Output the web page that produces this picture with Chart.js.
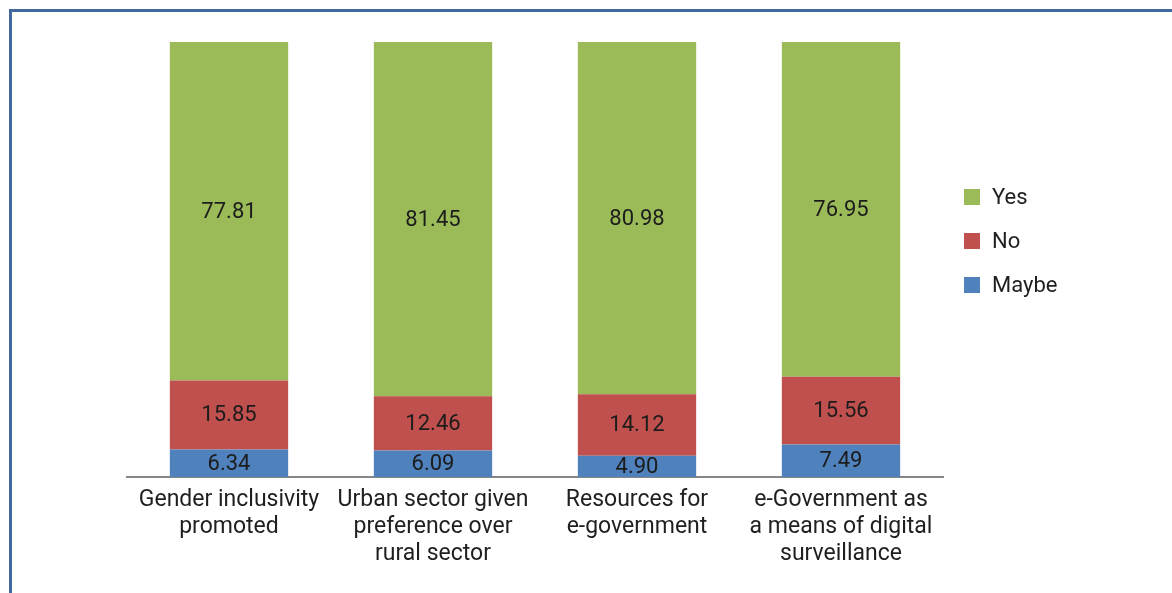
<!DOCTYPE html>
<html>
<head>
<meta charset="utf-8">
<script src="https://cdn.jsdelivr.net/npm/chart.js@4/dist/chart.umd.min.js"></script>
<style>
  html, body { margin: 0; padding: 0; background: #ffffff; }
  #wrap { position: relative; width: 1172px; height: 593px; overflow: hidden; }
  #frame {
    position: absolute; left: 9px; top: 9px; width: 1200px; height: 700px;
    border-left: 3px solid #41699b; border-top: 3px solid #41699b;
    box-sizing: border-box; pointer-events: none;
  }
  canvas { position: absolute; left: 0; top: 0; }
</style>
</head>
<body>
<div id="wrap">
  <canvas id="chart" width="1172" height="593"></canvas>
  <div id="frame"></div>
</div>
<script>
// Survey categories (multi-line axis labels)
const categories = [
  ["Gender inclusivity", "promoted"],
  ["Urban sector given", "preference over", "rural sector"],
  ["Resources for", "e-government"],
  ["e-Government as", "a means of digital", "surveillance"]
];

// Response shares, percent
const yesValues   = [77.81, 81.45, 80.98, 76.95];
const noValues    = [15.85, 12.46, 14.12, 15.56];
const maybeValues = [6.34, 6.09, 4.90, 7.49];

const FONT = "Roboto, 'Open Sans', sans-serif";
const SIZE = 23;

// Writes each segment's value in the middle of the segment
const valueLabels = {
  id: 'valueLabels',
  afterDatasetsDraw(chart) {
    const ctx = chart.ctx;
    ctx.save();
    ctx.font = (SIZE - 1) + 'px ' + FONT;
    ctx.fillStyle = '#1c1c1c';
    ctx.textAlign = 'center';
    ctx.textBaseline = 'middle';
    chart.data.datasets.forEach((ds, i) => {
      chart.getDatasetMeta(i).data.forEach((bar, j) => {
        const y = (bar.y + bar.base) / 2;
        ctx.fillText(ds.data[j].toFixed(2), bar.x, y + 1);
      });
    });
    ctx.restore();
  }
};

// Legend on the right: Yes, No, Maybe from top to bottom
const sideLegend = {
  id: 'sideLegend',
  afterDraw(chart) {
    const ctx = chart.ctx;
    ctx.save();
    ctx.font = (SIZE - 1) + 'px ' + FONT;
    ctx.textAlign = 'left';
    ctx.textBaseline = 'middle';
    const items = chart.data.datasets.slice().reverse();
    items.forEach((ds, k) => {
      const cy = 197 + k * 44;
      ctx.fillStyle = ds.backgroundColor;
      ctx.fillRect(964, cy - 8, 16, 16);
      ctx.fillStyle = '#1f1f1f';
      ctx.fillText(ds.label, 992, cy + 1);
    });
    ctx.restore();
  }
};

new Chart(document.getElementById('chart'), {
  type: 'bar',
  data: {
    labels: categories,
    datasets: [
      { label: 'Maybe', data: maybeValues, backgroundColor: '#4f81bd' },
      { label: 'No',    data: noValues,    backgroundColor: '#c0504d' },
      { label: 'Yes',   data: yesValues,   backgroundColor: '#9bbb59' }
    ]
  },
  options: {
    responsive: false,
    animation: false,
    devicePixelRatio: 1,
    layout: { padding: { left: 127, right: 229, top: 42, bottom: 0 } },
    datasets: {
      bar: { categoryPercentage: 1.0, barPercentage: 0.58 }
    },
    plugins: {
      legend: { display: false },
      tooltip: { enabled: false }
    },
    scales: {
      x: {
        stacked: true,
        grid: { display: false, drawTicks: false },
        border: { display: true, color: '#868686', width: 2 },
        ticks: {
          padding: 10,
          color: '#1f1f1f',
          font: { family: FONT, size: SIZE, lineHeight: 27 / SIZE },
          maxRotation: 0,
          autoSkip: false
        },
        afterFit(scale) { scale.height = 116; }
      },
      y: {
        stacked: true,
        display: false,
        min: 0,
        max: 100
      }
    }
  },
  plugins: [valueLabels, sideLegend]
});
</script>
</body>
</html>
